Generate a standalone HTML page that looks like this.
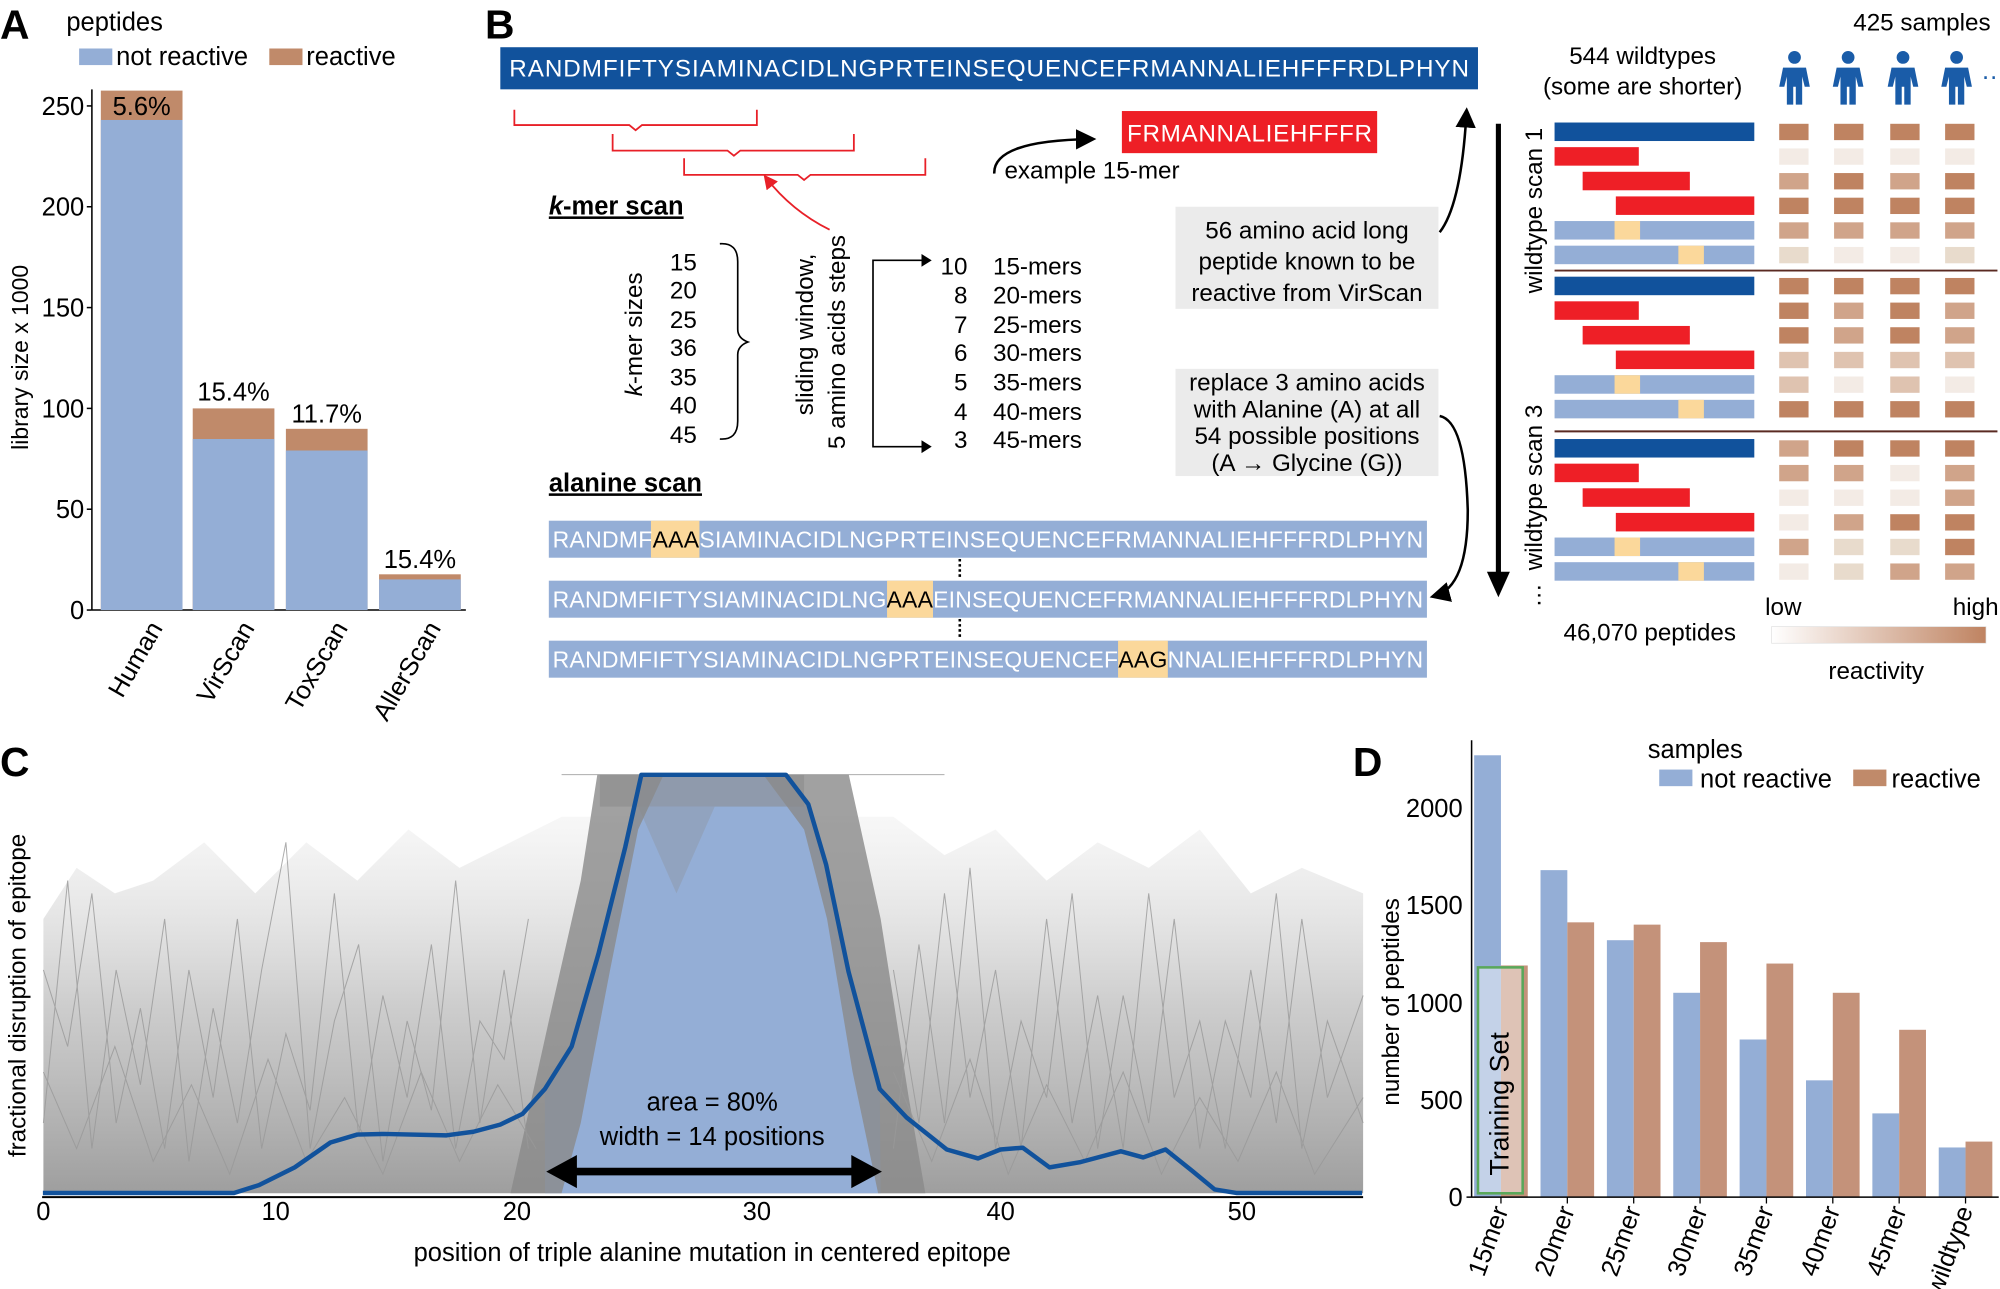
<!DOCTYPE html>
<html><head><meta charset="utf-8"><style>html,body{margin:0;padding:0;background:#fff}svg{display:block}text{font-family:"Liberation Sans",sans-serif}</style></head><body>
<svg width="2000" height="1289" viewBox="0 0 1567 1010" preserveAspectRatio="none" xmlns="http://www.w3.org/2000/svg" xmlns:xlink="http://www.w3.org/1999/xlink">
<defs>
<linearGradient id="rg" x1="0" x2="1"><stop offset="0" stop-color="#fff"/><stop offset="1" stop-color="#bf8361"/></linearGradient>
<linearGradient id="gg" x1="0" x2="0" y1="0" y2="1"><stop offset="0" stop-color="#d8d8d8" stop-opacity="0.2"/><stop offset="0.5" stop-color="#b8b8b8" stop-opacity="0.7"/><stop offset="1" stop-color="#999" stop-opacity="0.95"/></linearGradient>
<marker id="ah" markerWidth="8" markerHeight="8" refX="6" refY="4" orient="auto"><path d="M0,0L8,4L0,8z" fill="#000"/></marker>
<marker id="ahr" markerWidth="8" markerHeight="8" refX="6" refY="4" orient="auto"><path d="M0,0L8,4L0,8z" fill="#e82028"/></marker>
<g id="person" fill="#1a5ca8"><circle cx="0" cy="45" r="5"/><path d="M-9,53H9L12,68H8L6,60V82H1V68H-1V82H-6V60L-8,68H-12z"/></g>
</defs>
<!-- Panel A -->
<text x="0" y="30" font-size="32" font-weight="bold">A</text>
<text x="52" y="24" font-size="20">peptides</text>
<rect x="62" y="38" width="26" height="13" fill="#94aed6"/><text x="91" y="51" font-size="20">not reactive</text>
<rect x="211" y="38" width="26" height="13" fill="#c08a6a"/><text x="240" y="51" font-size="20">reactive</text>
<g font-size="20" text-anchor="end">
<text x="66" y="485">0</text><text x="66" y="406">50</text><text x="66" y="327">100</text><text x="66" y="248">150</text><text x="66" y="169">200</text><text x="66" y="90">250</text></g>
<g stroke="#000" stroke-width="1.2"><line x1="72" y1="70" x2="72" y2="478"/><line x1="72" y1="478" x2="365" y2="478"/>
<line x1="68" y1="478" x2="72" y2="478"/><line x1="68" y1="399" x2="72" y2="399"/><line x1="68" y1="320" x2="72" y2="320"/><line x1="68" y1="241" x2="72" y2="241"/><line x1="68" y1="162" x2="72" y2="162"/><line x1="68" y1="83" x2="72" y2="83"/></g>
<text transform="translate(22,280) rotate(-90)" font-size="18" text-anchor="middle">library size x 1000</text>
<rect x="79" y="71" width="64" height="407" fill="#c08a6a"/><rect x="79" y="94" width="64" height="384" fill="#94aed6"/>
<rect x="151" y="320" width="64" height="158" fill="#c08a6a"/><rect x="151" y="344" width="64" height="134" fill="#94aed6"/>
<rect x="224" y="336" width="64" height="142" fill="#c08a6a"/><rect x="224" y="353" width="64" height="125" fill="#94aed6"/>
<rect x="297" y="450" width="64" height="28" fill="#c08a6a"/><rect x="297" y="454" width="64" height="24" fill="#94aed6"/>
<g font-size="20" text-anchor="middle"><text x="111" y="90">5.6%</text><text x="183" y="314">15.4%</text><text x="256" y="331">11.7%</text><text x="329" y="445">15.4%</text></g>
<g font-size="20" text-anchor="end">
<text transform="translate(128,492) rotate(-60)">Human</text><text transform="translate(200,492) rotate(-60)">VirScan</text>
<text transform="translate(273,492) rotate(-60)">ToxScan</text><text transform="translate(346,492) rotate(-60)">AllerScan</text></g>
<!-- Panel B -->
<text x="380" y="30" font-size="32" font-weight="bold">B</text>
<rect x="392" y="37" width="766" height="33" fill="#11529c"/>
<text x="775" y="60" font-size="19" fill="#fff" text-anchor="middle" textLength="752">RANDMFIFTYSIAMINACIDLNGPRTEINSEQUENCEFRMANNALIEHFFFRDLPHYN</text>
<g stroke="#e82028" stroke-width="1.4" fill="none">
<path d="M403,86V98H493L498,102L503,98H593V86"/>
<path d="M480,105V118H570L575,122L580,118H669V105"/>
<path d="M536,124V137H625L630,141L635,137H725V124"/>
<path d="M650,180Q620,165 600,139" marker-end="url(#ahr)"/></g>
<rect x="879" y="87" width="200" height="33" fill="#ee1f26"/>
<text x="979" y="111" font-size="19" fill="#fff" text-anchor="middle" textLength="192">FRMANNALIEHFFFR</text>
<path d="M779,136Q778,110 855,109" stroke="#000" stroke-width="2" fill="none" marker-end="url(#ah)"/>
<text x="787" y="140" font-size="19">example 15-mer</text>
<text x="430" y="168" font-size="20" font-weight="bold" text-decoration="underline"><tspan font-style="italic">k</tspan>-mer scan</text>
<text transform="translate(503,262) rotate(-90)" font-size="19" text-anchor="middle"><tspan font-style="italic">k</tspan>-mer sizes</text>
<g font-size="19" text-anchor="end"><text x="546" y="212">15</text><text x="546" y="234">20</text><text x="546" y="257">25</text><text x="546" y="279">36</text><text x="546" y="302">35</text><text x="546" y="324">40</text><text x="546" y="347">45</text></g>
<path d="M564,191Q578,190 578,205V258Q578,265 586,268Q578,271 578,278V330Q578,345 564,344" stroke="#000" stroke-width="1.3" fill="none"/>
<text transform="translate(637,262) rotate(-90)" font-size="19" text-anchor="middle">sliding window,</text>
<text transform="translate(662,268) rotate(-90)" font-size="19" text-anchor="middle">5 amino acids steps</text>
<path d="M728,204H684V350H728" stroke="#000" stroke-width="1.3" fill="none"/>
<path d="M722,199L730,204L722,209z M722,345L730,350L722,355z"/>
<g font-size="19"><g text-anchor="end"><text x="758" y="215">10</text><text x="758" y="238">8</text><text x="758" y="261">7</text><text x="758" y="283">6</text><text x="758" y="306">5</text><text x="758" y="329">4</text><text x="758" y="351">3</text></g>
<text x="778" y="215">15-mers</text><text x="778" y="238">20-mers</text><text x="778" y="261">25-mers</text><text x="778" y="283">30-mers</text><text x="778" y="306">35-mers</text><text x="778" y="329">40-mers</text><text x="778" y="351">45-mers</text></g>
<rect x="921" y="162" width="206" height="80" fill="#ebebeb"/>
<g font-size="19" text-anchor="middle"><text x="1024" y="187">56 amino acid long</text><text x="1024" y="211">peptide known to be</text><text x="1024" y="236">reactive from VirScan</text></g>
<rect x="921" y="289" width="206" height="84" fill="#ebebeb"/>
<g font-size="19" text-anchor="middle"><text x="1024" y="306">replace 3 amino acids</text><text x="1024" y="327">with Alanine (A) at all</text><text x="1024" y="348">54 possible positions</text><text x="1024" y="369">(A → Glycine (G))</text></g>
<path d="M1128,182Q1145,160 1149,88" stroke="#000" stroke-width="2" fill="none" marker-end="url(#ah)"/>
<path d="M1128,326Q1148,330 1150,400Q1150,460 1124,467" stroke="#000" stroke-width="2" fill="none" marker-end="url(#ah)"/>
<text x="430" y="385" font-size="20" font-weight="bold" text-decoration="underline">alanine scan</text>
<g font-size="18" fill="#fff">
<rect x="430" y="408" width="688" height="29" fill="#94aed6"/><rect x="510" y="408" width="38" height="29" fill="#fbd89b"/>
<text x="433" y="429" textLength="682">RANDMF<tspan fill="#000">AAA</tspan>SIAMINACIDLNGPRTEINSEQUENCEFRMANNALIEHFFFRDLPHYN</text>
<rect x="430" y="455" width="688" height="29" fill="#94aed6"/><rect x="695" y="455" width="36" height="29" fill="#fbd89b"/>
<text x="433" y="476" textLength="682">RANDMFIFTYSIAMINACIDLNG<tspan fill="#000">AAA</tspan>EINSEQUENCEFRMANNALIEHFFFRDLPHYN</text>
<rect x="430" y="502" width="688" height="29" fill="#94aed6"/><rect x="876" y="502" width="39" height="29" fill="#fbd89b"/>
<text x="433" y="523" textLength="682">RANDMFIFTYSIAMINACIDLNGPRTEINSEQUENCEF<tspan fill="#000">AAG</tspan>NNALIEHFFFRDLPHYN</text></g>
<line x1="752" y1="438" x2="752" y2="454" stroke="#000" stroke-width="2" stroke-dasharray="2,2"/>
<line x1="752" y1="485" x2="752" y2="501" stroke="#000" stroke-width="2" stroke-dasharray="2,2"/>
<text x="1452" y="24" font-size="19">425 samples</text>
<g font-size="19" text-anchor="middle"><text x="1287" y="50">544 wildtypes</text><text x="1287" y="74">(some are shorter)</text></g>
<use xlink:href="#person" x="1406"/><use xlink:href="#person" x="1448"/><use xlink:href="#person" x="1491"/><use xlink:href="#person" x="1533"/>
<text x="1552" y="62" font-size="20" fill="#1a5ca8">…</text>
<line x1="1174" y1="97" x2="1174" y2="450" stroke="#000" stroke-width="4"/>
<path d="M1165,448L1174,468L1183,448z"/>
<text transform="translate(1208,165) rotate(-90)" font-size="19" text-anchor="middle">wildtype scan 1</text>
<text transform="translate(1208,382) rotate(-90)" font-size="19" text-anchor="middle">wildtype scan 3</text>
<text transform="translate(1207,476) rotate(-90)" font-size="19">…</text>
<!-- heatmap bars -->
<g>
<rect x="1218" y="96" width="156.5" height="14.5" fill="#11529c"/>
<rect x="1218" y="115.3" width="66" height="14.5" fill="#ee1f26"/>
<rect x="1240" y="134.6" width="84" height="14.5" fill="#ee1f26"/>
<rect x="1266" y="153.9" width="108.5" height="14.5" fill="#ee1f26"/>
<rect x="1218" y="173.2" width="156.5" height="14.5" fill="#94aed6"/><rect x="1265" y="173.2" width="20" height="14.5" fill="#fbd89b"/>
<rect x="1218" y="192.5" width="156.5" height="14.5" fill="#94aed6"/><rect x="1315" y="192.5" width="20" height="14.5" fill="#fbd89b"/>
<rect x="1218" y="216.8" width="156.5" height="14.5" fill="#11529c"/>
<rect x="1218" y="236.1" width="66" height="14.5" fill="#ee1f26"/>
<rect x="1240" y="255.4" width="84" height="14.5" fill="#ee1f26"/>
<rect x="1266" y="274.7" width="108.5" height="14.5" fill="#ee1f26"/>
<rect x="1218" y="294" width="156.5" height="14.5" fill="#94aed6"/><rect x="1265" y="294" width="20" height="14.5" fill="#fbd89b"/>
<rect x="1218" y="313.3" width="156.5" height="14.5" fill="#94aed6"/><rect x="1315" y="313.3" width="20" height="14.5" fill="#fbd89b"/>
<rect x="1218" y="344" width="156.5" height="14.5" fill="#11529c"/>
<rect x="1218" y="363.3" width="66" height="14.5" fill="#ee1f26"/>
<rect x="1240" y="382.6" width="84" height="14.5" fill="#ee1f26"/>
<rect x="1266" y="401.9" width="108.5" height="14.5" fill="#ee1f26"/>
<rect x="1218" y="421.2" width="156.5" height="14.5" fill="#94aed6"/><rect x="1265" y="421.2" width="20" height="14.5" fill="#fbd89b"/>
<rect x="1218" y="440.5" width="156.5" height="14.5" fill="#94aed6"/><rect x="1315" y="440.5" width="20" height="14.5" fill="#fbd89b"/>
</g>
<!-- heat cells: D=#bf8361 M=#d0a48a L=#dfc3b0 V=#f3ebe5 E=#e8dbcc -->
<g>
<rect x="1394" y="97" width="23" height="12.8" fill="#bf8361"/><rect x="1437" y="97" width="23" height="12.8" fill="#bf8361"/><rect x="1481" y="97" width="23" height="12.8" fill="#bf8361"/><rect x="1524" y="97" width="23" height="12.8" fill="#bf8361"/>
<rect x="1394" y="116.3" width="23" height="12.8" fill="#f3ebe5"/><rect x="1437" y="116.3" width="23" height="12.8" fill="#f3ebe5"/><rect x="1481" y="116.3" width="23" height="12.8" fill="#f3ebe5"/><rect x="1524" y="116.3" width="23" height="12.8" fill="#f3ebe5"/>
<rect x="1394" y="135.6" width="23" height="12.8" fill="#d0a48a"/><rect x="1437" y="135.6" width="23" height="12.8" fill="#bf8361"/><rect x="1481" y="135.6" width="23" height="12.8" fill="#d0a48a"/><rect x="1524" y="135.6" width="23" height="12.8" fill="#bf8361"/>
<rect x="1394" y="154.9" width="23" height="12.8" fill="#bf8361"/><rect x="1437" y="154.9" width="23" height="12.8" fill="#bf8361"/><rect x="1481" y="154.9" width="23" height="12.8" fill="#bf8361"/><rect x="1524" y="154.9" width="23" height="12.8" fill="#bf8361"/>
<rect x="1394" y="174.2" width="23" height="12.8" fill="#d0a48a"/><rect x="1437" y="174.2" width="23" height="12.8" fill="#d0a48a"/><rect x="1481" y="174.2" width="23" height="12.8" fill="#d0a48a"/><rect x="1524" y="174.2" width="23" height="12.8" fill="#d0a48a"/>
<rect x="1394" y="193.5" width="23" height="12.8" fill="#e8dbcc"/><rect x="1437" y="193.5" width="23" height="12.8" fill="#f3ebe5"/><rect x="1481" y="193.5" width="23" height="12.8" fill="#f3ebe5"/><rect x="1524" y="193.5" width="23" height="12.8" fill="#e8dbcc"/>
<rect x="1394" y="217.8" width="23" height="12.8" fill="#bf8361"/><rect x="1437" y="217.8" width="23" height="12.8" fill="#bf8361"/><rect x="1481" y="217.8" width="23" height="12.8" fill="#bf8361"/><rect x="1524" y="217.8" width="23" height="12.8" fill="#bf8361"/>
<rect x="1394" y="237.1" width="23" height="12.8" fill="#bf8361"/><rect x="1437" y="237.1" width="23" height="12.8" fill="#d0a48a"/><rect x="1481" y="237.1" width="23" height="12.8" fill="#bf8361"/><rect x="1524" y="237.1" width="23" height="12.8" fill="#d0a48a"/>
<rect x="1394" y="256.4" width="23" height="12.8" fill="#bf8361"/><rect x="1437" y="256.4" width="23" height="12.8" fill="#d0a48a"/><rect x="1481" y="256.4" width="23" height="12.8" fill="#bf8361"/><rect x="1524" y="256.4" width="23" height="12.8" fill="#d0a48a"/>
<rect x="1394" y="275.7" width="23" height="12.8" fill="#dfc3b0"/><rect x="1437" y="275.7" width="23" height="12.8" fill="#dfc3b0"/><rect x="1481" y="275.7" width="23" height="12.8" fill="#dfc3b0"/><rect x="1524" y="275.7" width="23" height="12.8" fill="#dfc3b0"/>
<rect x="1394" y="295" width="23" height="12.8" fill="#dfc3b0"/><rect x="1437" y="295" width="23" height="12.8" fill="#f3ebe5"/><rect x="1481" y="295" width="23" height="12.8" fill="#dfc3b0"/><rect x="1524" y="295" width="23" height="12.8" fill="#f3ebe5"/>
<rect x="1394" y="314.3" width="23" height="12.8" fill="#bf8361"/><rect x="1437" y="314.3" width="23" height="12.8" fill="#bf8361"/><rect x="1481" y="314.3" width="23" height="12.8" fill="#bf8361"/><rect x="1524" y="314.3" width="23" height="12.8" fill="#bf8361"/>
<rect x="1394" y="345" width="23" height="12.8" fill="#d0a48a"/><rect x="1437" y="345" width="23" height="12.8" fill="#bf8361"/><rect x="1481" y="345" width="23" height="12.8" fill="#bf8361"/><rect x="1524" y="345" width="23" height="12.8" fill="#bf8361"/>
<rect x="1394" y="364.3" width="23" height="12.8" fill="#d0a48a"/><rect x="1437" y="364.3" width="23" height="12.8" fill="#d0a48a"/><rect x="1481" y="364.3" width="23" height="12.8" fill="#f3ebe5"/><rect x="1524" y="364.3" width="23" height="12.8" fill="#d0a48a"/>
<rect x="1394" y="383.6" width="23" height="12.8" fill="#f3ebe5"/><rect x="1437" y="383.6" width="23" height="12.8" fill="#f3ebe5"/><rect x="1481" y="383.6" width="23" height="12.8" fill="#f3ebe5"/><rect x="1524" y="383.6" width="23" height="12.8" fill="#d0a48a"/>
<rect x="1394" y="402.9" width="23" height="12.8" fill="#f3ebe5"/><rect x="1437" y="402.9" width="23" height="12.8" fill="#d0a48a"/><rect x="1481" y="402.9" width="23" height="12.8" fill="#bf8361"/><rect x="1524" y="402.9" width="23" height="12.8" fill="#bf8361"/>
<rect x="1394" y="422.2" width="23" height="12.8" fill="#d0a48a"/><rect x="1437" y="422.2" width="23" height="12.8" fill="#e8dbcc"/><rect x="1481" y="422.2" width="23" height="12.8" fill="#e8dbcc"/><rect x="1524" y="422.2" width="23" height="12.8" fill="#bf8361"/>
<rect x="1394" y="441.5" width="23" height="12.8" fill="#f3ebe5"/><rect x="1437" y="441.5" width="23" height="12.8" fill="#e8dbcc"/><rect x="1481" y="441.5" width="23" height="12.8" fill="#d0a48a"/><rect x="1524" y="441.5" width="23" height="12.8" fill="#d0a48a"/>
</g>
<line x1="1218" y1="212" x2="1565" y2="212" stroke="#5a2a22" stroke-width="1.5"/>
<line x1="1218" y1="338" x2="1565" y2="338" stroke="#5a2a22" stroke-width="1.5"/>
<text x="1383" y="482" font-size="19">low</text><text x="1530" y="482" font-size="19">high</text>
<rect x="1388" y="491" width="168" height="13" fill="url(#rg)" stroke="#ddd" stroke-width=".5"/>
<text x="1225" y="502" font-size="19">46,070 peptides</text>
<text x="1470" y="532" font-size="19" text-anchor="middle">reactivity</text>
<!-- Panel C -->
<text x="0" y="608" font-size="32" font-weight="bold">C</text>
<path d="M34,935V720L60,680L90,700L120,690L160,660L200,700L240,660L280,690L320,650L360,680L400,660L440,640L700,640L740,670L780,650L820,690L860,660L900,680L940,650L980,700L1020,680L1068,700V935z" fill="url(#gg)"/>
<path d="M427,935L426.9,853.3L447.9,819.9L468.9,747.3L489.9,663.7L502.5,607.1L615.8,607.1L633.3,630.2L647.3,677.6L664.8,761.3L689.3,853.3L690,935z" fill="#94aed6"/>
<g fill="#8a8a8a">
<path d="M400,935L430,800L455,690L468,607L520,607L500,650L478,760L455,880L440,935z" opacity=".8"/>
<path d="M598,607L665,607L690,720L712,860L725,935L688,935L668,840L648,720L630,650z" opacity=".8"/>
<rect x="470" y="607" width="160" height="25" opacity=".55"/>
<path d="M500,632L560,632L530,700z" opacity=".3"/>
</g>
<g fill="none" stroke="#999" stroke-width=".8" opacity=".8">
<path d="M440,607H740"/>
<path d="M34,760L53,820L72,700L91,880L110,790L129,900L148,760L167,860L186,720L205,900L224,810L243,870L262,700L281,890L300,780L319,860L338,740L357,900L376,800L395,830L414,720"/>
<path d="M34,880L53,690L72,900L91,760L110,850L129,720L148,910L167,790L186,880L205,760L224,660L243,900L262,800L281,740L300,910L319,800L338,870L357,690L376,880L395,760L414,900"/>
<path d="M700,760L720,880L740,700L760,860L780,760L800,900L820,720L840,880L860,780L880,900L900,700L920,860L940,800L960,900L980,760L1000,880L1020,720L1040,860L1068,780"/>
<path d="M700,900L720,740L740,880L760,680L780,900L800,800L820,860L840,700L860,900L880,780L900,880L920,720L940,900L960,800L980,860L1000,700L1020,900L1040,800L1068,880"/>
<path d="M34,840L60,900L90,820L120,910L150,850L180,920L210,830L240,910L270,860L300,920L330,840L360,910L390,850L420,900"/>
<path d="M700,840L730,910L760,830L790,920L820,850L850,910L880,840L910,920L940,860L970,910L1000,840L1030,920L1068,860"/>
</g>
<path d="M33.6,934.8L183.3,934.8L202.9,928.6L230.9,914.7L258.9,895.2L279.9,889L300.9,888.5L349.9,889.6L370.9,886.8L391.9,881.2L409.4,872.8L426.9,853.3L447.9,819.9L468.9,747.3L489.9,663.7L502.5,607.1L615.8,607.1L633.3,630.2L647.3,677.6L664.8,761.3L689.3,853.3L710.3,875.6L741.8,900.7L766.3,907.7L783.8,900.7L801.3,899.3L822.3,914.7L846.8,910.5L878.2,902.1L895.7,906.9L913.2,900.7L934.2,917.5L951.7,932L969.2,934.8L1067.2,934.8" fill="none" stroke="#11529c" stroke-width="3.5" stroke-linejoin="round"/>
<line x1="33" y1="938" x2="1068" y2="938" stroke="#000" stroke-width="1.5"/>
<g font-size="20" text-anchor="middle"><text x="34" y="956">0</text><text x="216" y="956">10</text><text x="405" y="956">20</text><text x="593" y="956">30</text><text x="784" y="956">40</text><text x="973" y="956">50</text></g>
<text x="558" y="988" font-size="20" text-anchor="middle">position of triple alanine mutation in centered epitope</text>
<text transform="translate(20,780) rotate(-90)" font-size="19" text-anchor="middle">fractional disruption of epitope</text>
<text x="558" y="870" font-size="20" text-anchor="middle">area = 80%</text>
<text x="558" y="897" font-size="20" text-anchor="middle">width = 14 positions</text>
<line x1="445" y1="918" x2="675" y2="918" stroke="#000" stroke-width="6"/>
<path d="M428,918L452,905V931z M691,918L667,905V931z"/>
<!-- Panel D -->
<text x="1060" y="608" font-size="32" font-weight="bold">D</text>
<text x="1291" y="594" font-size="20">samples</text>
<rect x="1300" y="603" width="26" height="13" fill="#94aed6"/><text x="1332" y="617" font-size="20">not reactive</text>
<rect x="1452" y="603" width="26" height="13" fill="#c08a6a"/><text x="1482" y="617" font-size="20">reactive</text>
<g>
<rect x="1155" y="591.8" width="21" height="346.2" fill="#94aed6"/><rect x="1176" y="756.5" width="21" height="181.5" fill="#c4927a"/>
<rect x="1207" y="681.8" width="21" height="256.2" fill="#94aed6"/><rect x="1228" y="722.7" width="21" height="215.3" fill="#c4927a"/>
<rect x="1259" y="736.7" width="21" height="201.3" fill="#94aed6"/><rect x="1280" y="724.5" width="21" height="213.5" fill="#c4927a"/>
<rect x="1311" y="777.9" width="21" height="160.1" fill="#94aed6"/><rect x="1332" y="738.2" width="21" height="199.8" fill="#c4927a"/>
<rect x="1363" y="814.5" width="21" height="123.5" fill="#94aed6"/><rect x="1384" y="755" width="21" height="183" fill="#c4927a"/>
<rect x="1415" y="846.5" width="21" height="91.5" fill="#94aed6"/><rect x="1436" y="777.9" width="21" height="160.1" fill="#c4927a"/>
<rect x="1467" y="872.4" width="21" height="65.6" fill="#94aed6"/><rect x="1488" y="806.9" width="21" height="131.1" fill="#c4927a"/>
<rect x="1519" y="899.1" width="21" height="38.9" fill="#94aed6"/><rect x="1540" y="894.5" width="21" height="43.5" fill="#c4927a"/>
</g>
<rect x="1158" y="758" width="35" height="177" fill="#fff" fill-opacity=".45" stroke="#5aa85a" stroke-width="2"/>
<text transform="translate(1182,865) rotate(-90)" font-size="21" text-anchor="middle">Training Set</text>
<line x1="1153" y1="580" x2="1153" y2="938" stroke="#000" stroke-width="1.2"/>
<line x1="1149" y1="938" x2="1566" y2="938" stroke="#000" stroke-width="1.2"/>
<g stroke="#000"><line x1="1176" y1="938" x2="1176" y2="943"/><line x1="1228" y1="938" x2="1228" y2="943"/><line x1="1280" y1="938" x2="1280" y2="943"/><line x1="1332" y1="938" x2="1332" y2="943"/><line x1="1384" y1="938" x2="1384" y2="943"/><line x1="1436" y1="938" x2="1436" y2="943"/><line x1="1488" y1="938" x2="1488" y2="943"/><line x1="1540" y1="938" x2="1540" y2="943"/></g>
<g font-size="20" text-anchor="end"><text x="1146" y="945">0</text><text x="1146" y="869">500</text><text x="1146" y="793">1000</text><text x="1146" y="716">1500</text><text x="1146" y="640">2000</text></g>
<text transform="translate(1096,785) rotate(-90)" font-size="19" text-anchor="middle">number of peptides</text>
<g font-size="20" text-anchor="end">
<text transform="translate(1182,948) rotate(-70)">15mer</text><text transform="translate(1234,948) rotate(-70)">20mer</text>
<text transform="translate(1286,948) rotate(-70)">25mer</text><text transform="translate(1338,948) rotate(-70)">30mer</text>
<text transform="translate(1390,948) rotate(-70)">35mer</text><text transform="translate(1442,948) rotate(-70)">40mer</text>
<text transform="translate(1494,948) rotate(-70)">45mer</text><text transform="translate(1546,948) rotate(-70)">wildtype</text></g>
</svg></body></html>
